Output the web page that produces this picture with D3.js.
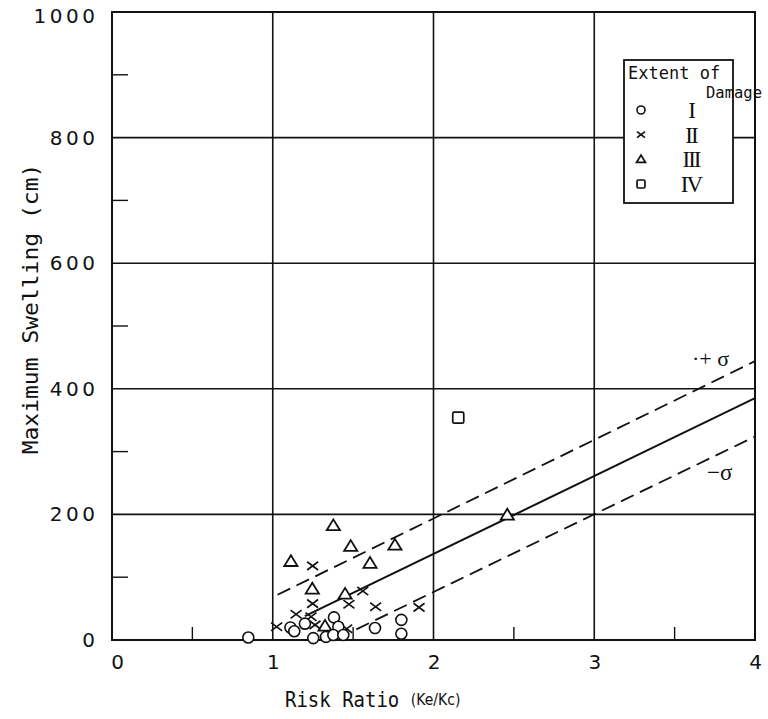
<!DOCTYPE html>
<html><head><meta charset="utf-8">
<script src="https://cdn.jsdelivr.net/npm/d3@7"></script>
<style>
html,body{margin:0;padding:0;background:#fff;}
svg{display:block;}
</style></head>
<body>
<svg id="c" width="768" height="719"></svg>
<script>
// ---- data ----
const xTicks = [0, 1, 2, 3, 4];
const yTicks = [0, 200, 400, 600, 800, 1000];
const xGrid = [1, 2, 3];
const yGrid = [200, 400, 600, 800];
const xMinor = [0.5, 1.5, 2.5, 3.5];
const yMinor = [100, 300, 500, 700, 900];

// Extent of damage I (circles)
const damageI = [
  [0.848, 4], [1.11, 20], [1.134, 14], [1.2, 26], [1.252, 3], [1.331, 5],
  [1.381, 36], [1.408, 21], [1.377, 8], [1.439, 8], [1.636, 19],
  [1.80, 32], [1.80, 10]
];
// Extent of damage II (crosses)
const damageII = [
  [1.248, 118], [1.56, 78], [1.248, 58], [1.474, 57], [1.64, 53], [1.91, 52],
  [1.145, 41], [1.238, 37], [1.024, 21], [1.263, 24], [1.46, 18]
];
// Extent of damage III (triangles)
const damageIII = [
  [1.377, 182], [1.485, 149], [1.76, 151], [1.113, 125], [1.605, 122],
  [1.246, 81], [1.45, 73], [1.325, 22], [2.459, 199]
];
// Extent of damage IV (squares)
const damageIV = [[2.154, 354]];

// regression lines
const meanLine = [[1.2, 38], [4, 385]];
const plusSigma = [[1.03, 72], [4, 444]];
const minusSigma = [[1.52, 17], [4, 324]];

const legendRows = [
  {sym: "circle", label: "I"},
  {sym: "cross", label: "II"},
  {sym: "triangle", label: "III"},
  {sym: "square", label: "IV"}
];

// ---- chart ----
const svg = d3.select("#c");
const L = 112, R = 755, T = 12, B = 640;
const x = d3.scaleLinear().domain([0, 4]).range([L, R]);
const y = d3.scaleLinear().domain([0, 1000]).range([B, T]);
const ink = "#111";

// gridlines
svg.append("g").selectAll("line").data(xGrid).join("line")
  .attr("x1", d => x(d)).attr("x2", d => x(d)).attr("y1", T).attr("y2", B)
  .attr("stroke", ink).attr("stroke-width", 1.6);
svg.append("g").selectAll("line").data(yGrid).join("line")
  .attr("x1", L).attr("x2", R).attr("y1", d => y(d)).attr("y2", d => y(d))
  .attr("stroke", ink).attr("stroke-width", 1.6);

// minor ticks
svg.append("g").selectAll("line").data(xMinor).join("line")
  .attr("x1", d => x(d)).attr("x2", d => x(d)).attr("y1", B).attr("y2", B - 13)
  .attr("stroke", ink).attr("stroke-width", 1.4);
svg.append("g").selectAll("line").data(yMinor).join("line")
  .attr("x1", L).attr("x2", L + 16).attr("y1", d => y(d)).attr("y2", d => y(d))
  .attr("stroke", ink).attr("stroke-width", 1.4);

// frame
svg.append("rect").attr("x", L).attr("y", T).attr("width", R - L).attr("height", B - T)
  .attr("fill", "none").attr("stroke", ink).attr("stroke-width", 2);

// axes labels via d3 axes
const tickFont = "'DejaVu Sans', sans-serif";
const ax = svg.append("g").attr("transform", `translate(0,${B})`)
  .call(d3.axisBottom(x).tickValues(xTicks).tickSize(0).tickPadding(15).tickFormat(d3.format("d")));
ax.select(".domain").remove();
ax.selectAll("text").attr("font-family", tickFont).attr("font-size", 20).attr("fill", ink)
  .attr("dx", (d) => d === 0 ? 5 : 0);
const ay = svg.append("g").attr("transform", `translate(${L},0)`)
  .call(d3.axisLeft(y).tickValues(yTicks).tickSize(0).tickPadding(17).tickFormat(d3.format("d")));
ay.select(".domain").remove();
ay.selectAll("text").attr("font-family", tickFont).attr("font-size", 20).attr("fill", ink)
  .attr("letter-spacing", 3.5).attr("dx", 3.5)
  .attr("dy", (d) => d === 1000 ? "0.5em" : "0.32em");

// axis titles
const titleFont = "'DejaVu Sans Mono', monospace";
const xt = svg.append("text").attr("x", 285).attr("y", 707)
  .attr("font-family", titleFont).attr("font-size", 19).attr("fill", ink)
  .attr("transform", "translate(285,707) scale(1,1.12) translate(-285,-707)");
xt.append("tspan").text("Risk Ratio ");
xt.append("tspan").attr("font-family", "'DejaVu Sans', sans-serif").attr("font-size", 14).attr("dy", -2).text("(Ke/Kc)");

svg.append("text").attr("transform", "translate(38,309) rotate(-90) scale(1.15,1.05)")
  .attr("text-anchor", "middle")
  .attr("font-family", titleFont).attr("font-size", 20).attr("fill", ink)
  .text("Maximum Swelling (cm)");

// regression lines
const line = d3.line().x(d => x(d[0])).y(d => y(d[1]));
svg.append("path").datum(meanLine).attr("d", line).attr("fill", "none")
  .attr("stroke", ink).attr("stroke-width", 2);
svg.append("path").datum(plusSigma).attr("d", line).attr("fill", "none")
  .attr("stroke", ink).attr("stroke-width", 1.8).attr("stroke-dasharray", "14,7");
svg.append("path").datum(minusSigma).attr("d", line).attr("fill", "none")
  .attr("stroke", ink).attr("stroke-width", 1.8).attr("stroke-dasharray", "14,7");

svg.append("text").attr("x", 692).attr("y", 366).attr("font-family", "'Liberation Serif', serif")
  .attr("font-size", 22).attr("fill", ink).text("·+ σ");
svg.append("text").attr("x", 707).attr("y", 480).attr("font-family", "'Liberation Serif', serif")
  .attr("font-size", 23).attr("fill", ink).text("−σ");

// symbols
function drawSym(g, type, size) {
  const s = size;
  if (type === "circle") {
    g.append("circle").attr("r", s).attr("fill", "#fff").attr("stroke", ink).attr("stroke-width", 1.6);
  } else if (type === "cross") {
    g.append("path").attr("d", `M${-s},${-s * 0.75}L${s},${s * 0.75}M${-s},${s * 0.75}L${s},${-s * 0.75}`)
      .attr("stroke", ink).attr("stroke-width", 1.7).attr("fill", "none");
  } else if (type === "triangle") {
    g.append("path").attr("d", `M0,${-s * 1.05}L${s * 1.1},${s * 0.75}L${-s * 1.1},${s * 0.75}Z`)
      .attr("fill", "#fff").attr("stroke", ink).attr("stroke-width", 1.8);
  } else if (type === "square") {
    g.append("rect").attr("x", -s).attr("y", -s).attr("width", 2 * s).attr("height", 2 * s)
      .attr("rx", 1.5).attr("fill", "#fff").attr("stroke", ink).attr("stroke-width", 1.7);
  }
}
const series = [
  {data: damageIII, sym: "triangle", size: 6},
  {data: damageII, sym: "cross", size: 5.5},
  {data: damageI, sym: "circle", size: 5.5},
  {data: damageIV, sym: "square", size: 5.5}
];
series.forEach(sr => {
  sr.data.forEach(d => {
    const g = svg.append("g").attr("transform", `translate(${x(d[0])},${y(d[1])})`);
    drawSym(g, sr.sym, sr.size);
  });
});

// legend
const lg = svg.append("g");
lg.append("rect").attr("x", 624).attr("y", 60).attr("width", 109).attr("height", 143)
  .attr("fill", "#fff").attr("stroke", ink).attr("stroke-width", 1.8);
lg.append("text").attr("x", 628).attr("y", 79).attr("font-family", titleFont)
  .attr("font-size", 17).attr("fill", ink).text("Extent of");
lg.append("text").attr("x", 706).attr("y", 98).attr("font-family", titleFont)
  .attr("font-size", 15.5).attr("fill", ink).text("Damage");
const rowY = d3.scalePoint().domain(legendRows.map(d => d.label)).range([110, 184]);
legendRows.forEach(r => {
  const g = lg.append("g").attr("transform", `translate(641,${rowY(r.label)})`);
  drawSym(g, r.sym, 4);
  lg.append("text").attr("x", 691).attr("y", rowY(r.label) + 8).attr("text-anchor", "middle")
    .attr("font-family", "'Liberation Serif', serif").attr("font-size", 23)
    .attr("letter-spacing", -2).attr("fill", ink).text(r.label);
});
</script>
</body></html>
